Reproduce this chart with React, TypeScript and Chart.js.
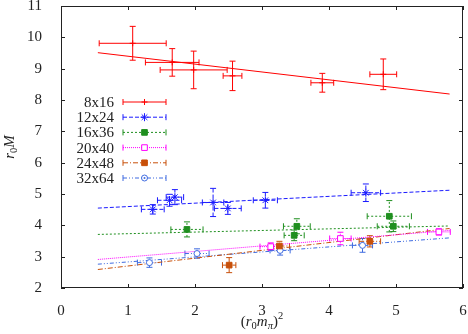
import React, { useEffect, useRef } from "react";
import { Chart, registerables } from "chart.js";

Chart.register(...registerables);

// ---------- data ----------
const seriesLabels = ["8x16", "12x24", "16x36", "20x40", "24x48", "32x64"];
const xTicks = [0, 1, 2, 3, 4, 5, 6];
const yTicks = [2, 3, 4, 5, 6, 7, 8, 9, 10, 11];

const x8 = [1.07, 1.66, 1.98, 2.56, 3.9, 4.81];
const y8 = [9.81, 9.2, 8.96, 8.77, 8.55, 8.82];
const xe8 = [0.5, 0.4, 0.5, 0.14, 0.17, 0.2];
const ye8 = [0.54, 0.44, 0.6, 0.47, 0.3, 0.49];

const x12 = [1.37, 1.62, 1.7, 2.27, 2.49, 3.05, 4.55];
const y12 = [4.51, 4.8, 4.9, 4.73, 4.54, 4.8, 5.04];
const xe12 = [0.17, 0.18, 0.13, 0.16, 0.2, 0.18, 0.22];
const ye12 = [0.15, 0.19, 0.24, 0.45, 0.19, 0.25, 0.28];

const x16 = [1.88, 3.48, 3.52, 4.9, 4.96];
const y16 = [3.87, 3.68, 3.97, 4.29, 3.97];
const xe16 = [0.24, 0.15, 0.2, 0.33, 0.24];
const ye16 = [0.24, 0.17, 0.24, 0.5, 0.17];

const x20 = [3.13, 4.17, 5.64];
const y20 = [3.32, 3.58, 3.79];
const xe20 = [0.16, 0.16, 0.17];
const ye20 = [0.12, 0.2, 0.1];

const x24 = [2.51, 3.26, 4.61];
const y24 = [2.73, 3.34, 3.49];
const xe24 = [0.1, 0.15, 0.16];
const ye24 = [0.24, 0.15, 0.18];

const x32 = [1.32, 2.03, 3.27, 4.5];
const y32 = [2.81, 3.1, 3.2, 3.36];
const xe32 = [0.18, 0.18, 0.15, 0.15];
const ye32 = [0.15, 0.15, 0.15, 0.22];

// linear fits (end points)
const fitX = [0.55, 5.8];
const fit8 = [9.51, 8.19];
const fit12 = [4.55, 5.12];
const fit16 = [3.71, 3.98];
const fit20 = [2.91, 3.84];
const fit24 = [2.59, 3.9];
const fit32 = [2.76, 3.6];

// ---------- styles ----------
const colors = ["#ff0000", "#1a1aff", "#1f8f1f", "#ff00ff", "#c8500a", "#3f6be0"];
const dashes: number[][] = [[], [4, 2], [2, 2], [1, 1], [5, 2, 1, 2], [4, 2, 1, 2, 1, 2]];
const markers = ["cross", "star", "rect", "rect", "rect", "circle"];
const filled = [true, true, true, false, true, false];
const SERIF = '"Liberation Serif", "DejaVu Serif", serif';

const seriesX = [x8, x12, x16, x20, x24, x32];
const seriesY = [y8, y12, y16, y20, y24, y32];
const seriesXE = [xe8, xe12, xe16, xe20, xe24, xe32];
const seriesYE = [ye8, ye12, ye16, ye20, ye24, ye32];
const fits = [fit8, fit12, fit16, fit20, fit24, fit32];

function drawMarker(ctx: CanvasRenderingContext2D, kind: string, x: number, y: number, r: number, color: string, fill: boolean) {
  ctx.save();
  ctx.setLineDash([]);
  ctx.strokeStyle = color;
  ctx.fillStyle = fill ? color : "#fff";
  ctx.lineWidth = 1;
  ctx.beginPath();
  if (kind === "cross") {
    ctx.moveTo(x - r, y); ctx.lineTo(x + r, y);
    ctx.moveTo(x, y - r); ctx.lineTo(x, y + r);
    ctx.stroke();
  } else if (kind === "star") {
    const d = r * Math.SQRT1_2;
    ctx.moveTo(x - r, y); ctx.lineTo(x + r, y);
    ctx.moveTo(x, y - r); ctx.lineTo(x, y + r);
    ctx.moveTo(x - d, y - d); ctx.lineTo(x + d, y + d);
    ctx.moveTo(x - d, y + d); ctx.lineTo(x + d, y - d);
    ctx.stroke();
  } else if (kind === "rect") {
    const s = r * Math.SQRT1_2;
    ctx.rect(x - s, y - s, 2 * s, 2 * s);
    ctx.fill(); ctx.stroke();
  } else {
    ctx.arc(x, y, r, 0, Math.PI * 2);
    ctx.fill(); ctx.stroke();
    ctx.beginPath();
    ctx.fillStyle = color;
    ctx.arc(x, y, 1, 0, Math.PI * 2);
    ctx.fill();
  }
  ctx.restore();
}

function drawRich(ctx: CanvasRenderingContext2D, parts: any[], cx: number, cy: number, base: number) {
  let total = 0;
  const items = parts.map((p) => {
    const size = p.small ? base * 0.7 : base;
    const font = `${p.italic ? "italic " : ""}${size}px ${SERIF}`;
    ctx.font = font;
    const w = ctx.measureText(p.t).width;
    total += w;
    return { ...p, font, w };
  });
  let x = cx - total / 2;
  ctx.textAlign = "left";
  ctx.textBaseline = "alphabetic";
  for (const it of items) {
    ctx.font = it.font;
    ctx.fillText(it.t, x, cy + (it.dy || 0));
    x += it.w;
  }
}

const errorBars = {
  id: "errorBars",
  beforeDatasetsDraw(chart: any) {
    const { ctx, chartArea, scales } = chart;
    const xs = scales.x, ys = scales.y;
    ctx.save();
    ctx.beginPath();
    ctx.rect(chartArea.left, chartArea.top, chartArea.right - chartArea.left, chartArea.bottom - chartArea.top);
    ctx.clip();
    chart.data.datasets.forEach((ds: any) => {
      if (!ds.xErr) return;
      ctx.strokeStyle = ds.borderColor;
      ctx.lineWidth = 1;
      ctx.setLineDash(ds.errDash);
      ds.data.forEach((p: any, j: number) => {
        const px = xs.getPixelForValue(p.x), py = ys.getPixelForValue(p.y);
        const x0 = xs.getPixelForValue(p.x - ds.xErr[j]), x1 = xs.getPixelForValue(p.x + ds.xErr[j]);
        const y0 = ys.getPixelForValue(p.y - ds.yErr[j]), y1 = ys.getPixelForValue(p.y + ds.yErr[j]);
        const c = 3;
        ctx.beginPath();
        ctx.moveTo(x0, py); ctx.lineTo(x1, py);
        ctx.moveTo(px, y0); ctx.lineTo(px, y1);
        ctx.stroke();
        ctx.save();
        ctx.setLineDash([]);
        ctx.beginPath();
        ctx.moveTo(x0, py - c); ctx.lineTo(x0, py + c);
        ctx.moveTo(x1, py - c); ctx.lineTo(x1, py + c);
        ctx.moveTo(px - c, y0); ctx.lineTo(px + c, y0);
        ctx.moveTo(px - c, y1); ctx.lineTo(px + c, y1);
        ctx.stroke();
        ctx.restore();
      });
    });
    ctx.restore();
  },
};

const frameAndDecor = {
  id: "frameAndDecor",
  afterDraw(chart: any) {
    const { ctx, chartArea: a, scales } = chart;
    const xs = scales.x, ys = scales.y;
    ctx.save();
    ctx.strokeStyle = "#222";
    ctx.lineWidth = 1;
    ctx.setLineDash([]);
    ctx.strokeRect(a.left + 0.5, a.top + 0.5, a.right - a.left - 1, a.bottom - a.top - 1);
    const tl = 4;
    ctx.beginPath();
    xTicks.forEach((v) => {
      const px = Math.round(xs.getPixelForValue(v)) + 0.5;
      ctx.moveTo(px, a.bottom); ctx.lineTo(px, a.bottom - tl);
      ctx.moveTo(px, a.top); ctx.lineTo(px, a.top + tl);
    });
    yTicks.forEach((v) => {
      const py = Math.round(ys.getPixelForValue(v)) + 0.5;
      ctx.moveTo(a.left, py); ctx.lineTo(a.left + tl, py);
      ctx.moveTo(a.right, py); ctx.lineTo(a.right - tl, py);
    });
    ctx.stroke();

    // legend
    ctx.fillStyle = "#222";
    seriesLabels.forEach((lab, i) => {
      const ry = a.top + 96 + i * 15.2;
      const tx = a.left + 53;
      const l0 = a.left + 62, l1 = a.left + 105, lm = (l0 + l1) / 2;
      ctx.font = `15px ${SERIF}`;
      ctx.textAlign = "right";
      ctx.textBaseline = "middle";
      ctx.fillStyle = "#222";
      ctx.fillText(lab, tx, ry + 1);
      ctx.strokeStyle = colors[i];
      ctx.setLineDash(dashes[i]);
      ctx.beginPath();
      ctx.moveTo(l0, ry); ctx.lineTo(l1, ry);
      ctx.stroke();
      ctx.setLineDash([]);
      ctx.beginPath();
      ctx.moveTo(l0, ry - 3); ctx.lineTo(l0, ry + 3);
      ctx.moveTo(l1, ry - 3); ctx.lineTo(l1, ry + 3);
      ctx.stroke();
      drawMarker(ctx, markers[i], lm, ry, markers[i] === "cross" ? 3 : markers[i] === "circle" ? 3 : 4, colors[i], filled[i]);
    });

    // axis titles
    ctx.fillStyle = "#222";
    drawRich(
      ctx,
      [
        { t: "(" },
        { t: "r", italic: true },
        { t: "0", small: true, dy: 3 },
        { t: "m", italic: true },
        { t: "π", italic: true, small: true, dy: 3 },
        { t: ")" },
        { t: "2", small: true, dy: -7 },
      ],
      (a.left + a.right) / 2,
      a.bottom + 38,
      15
    );
    ctx.save();
    ctx.translate(14, (a.top + a.bottom) / 2);
    ctx.rotate(-Math.PI / 2);
    drawRich(
      ctx,
      [
        { t: "r", italic: true },
        { t: "0", small: true, dy: 3 },
        { t: "M", italic: true },
      ],
      0,
      0,
      15
    );
    ctx.restore();
    ctx.restore();
  },
};

export default function App() {
  const ref = useRef<HTMLCanvasElement | null>(null);
  useEffect(() => {
    if (!ref.current) return;
    const datasets: any[] = [];
    seriesLabels.forEach((lab, i) => {
      datasets.push({
        type: "scatter",
        label: lab,
        data: seriesX[i].map((x, j) => ({ x, y: seriesY[i][j] })),
        xErr: seriesXE[i],
        yErr: seriesYE[i],
        errDash: dashes[i],
        borderColor: colors[i],
        backgroundColor: filled[i] ? colors[i] : "#ffffff",
        pointStyle: markers[i] === "cross" ? "cross" : markers[i],
        pointRadius: markers[i] === "cross" ? 3 : markers[i] === "circle" ? 3 : 4,
        pointBorderWidth: 1,
        showLine: false,
      });
    });
    fits.forEach((f, i) => {
      datasets.push({
        type: "line",
        label: seriesLabels[i] + " fit",
        data: fitX.map((x, j) => ({ x, y: f[j] })),
        borderColor: colors[i],
        borderDash: dashes[i],
        borderWidth: 1,
        pointRadius: 0,
        fill: false,
      });
    });
    const chart = new Chart(ref.current, {
      type: "scatter",
      data: { datasets },
      options: {
        animation: false,
        responsive: true,
        maintainAspectRatio: false,
        layout: { padding: { top: 6, right: 5, left: 0, bottom: 0 } },
        plugins: { legend: { display: false }, tooltip: { enabled: false } },
        scales: {
          x: {
            type: "linear",
            min: 0,
            max: 6,
            afterBuildTicks: (s: any) => { s.ticks = xTicks.map((v) => ({ value: v })); },
            afterFit: (s: any) => { s.height = 46; s.paddingLeft = 0; s.paddingRight = 0; },
            grid: { display: false },
            border: { display: false },
            ticks: { color: "#222", font: { family: SERIF, size: 15 }, padding: 6 },
          },
          y: {
            type: "linear",
            min: 2,
            max: 11,
            afterBuildTicks: (s: any) => { s.ticks = yTicks.map((v) => ({ value: v })); },
            afterFit: (s: any) => { s.width = 61; s.paddingTop = 0; s.paddingBottom = 0; },
            grid: { display: false },
            border: { display: false },
            ticks: { color: "#222", font: { family: SERIF, size: 15 }, padding: 11 },
          },
        },
      } as any,
      plugins: [errorBars, frameAndDecor],
    });
    return () => chart.destroy();
  }, []);
  return (
    <div style={{ position: "fixed", left: 0, top: 0, width: 468, height: 334, background: "#fff" }}>
      <canvas ref={ref} />
    </div>
  );
}
